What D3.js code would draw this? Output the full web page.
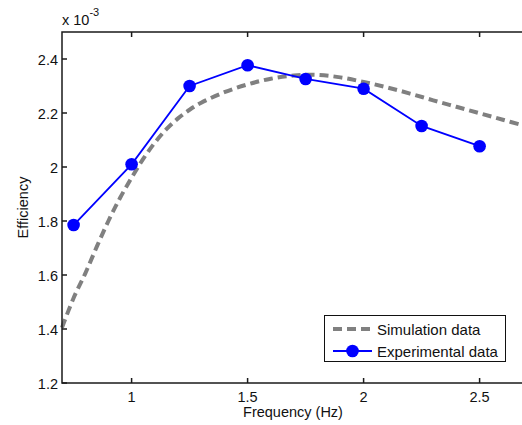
<!DOCTYPE html>
<html>
<head>
<meta charset="utf-8">
<script src="https://cdn.jsdelivr.net/npm/d3@7"></script>
<style>
 body { margin: 0; background: #fff; }
 text { font-family: "Liberation Sans", Arial, sans-serif; fill: #111; }
</style>
</head>
<body>
<div id="chart"></div>
<script>
// data (efficiency in units of 1e-3)
var expFreq = [0.75, 1, 1.25, 1.5, 1.75, 2, 2.25, 2.5];
var expEff = [1.785, 2.01, 2.30, 2.377, 2.326, 2.29, 2.152, 2.077];

var simFreq = [0.7, 0.75, 0.8, 0.85, 0.9, 0.95, 1, 1.05, 1.1, 1.15, 1.2, 1.25, 1.3, 1.4, 1.5, 1.6, 1.7, 1.8, 1.9, 2, 2.1, 2.2, 2.3, 2.4, 2.5, 2.6, 2.7, 2.75];
var simEff = [1.405, 1.515, 1.605, 1.705, 1.80, 1.885, 1.96, 2.03, 2.09, 2.14, 2.18, 2.212, 2.238, 2.277, 2.306, 2.327, 2.339, 2.341, 2.332, 2.315, 2.295, 2.272, 2.247, 2.223, 2.199, 2.175, 2.151, 2.139];

var xTicks = [1, 1.5, 2, 2.5];
var yTicks = [1.2, 1.4, 1.6, 1.8, 2, 2.2, 2.4];
var legendLabels = ["Simulation data", "Experimental data"];

 var w = 522;
 var h = 425;
 var svg = d3.select("#chart")
 .append("svg")
 .attr("width", w)
 .attr("height", h);

 // plot box (note: "top" is taken by window.top)
 var pLeft = 62, pTop = 32, pBottom = 383;
 var x = d3.scaleLinear().domain([0.7, 2.75]).range([pLeft, pLeft + 2.05 * 232]);
 var y = d3.scaleLinear().domain([1.2, 2.5]).range([pBottom, pTop]);
 var pRight = x(2.75);

var sim = simFreq.map(function(f, i) { return [f, simEff[i]]; });
var exp = expFreq.map(function(f, i) { return [f, expEff[i]]; });

var line = d3.line()
 .x(function(d) { return x(d[0]); })
 .y(function(d) { return y(d[1]); });

// simulation curve
svg.append("path")
 .datum(sim)
 .attr("fill", "none")
 .attr("stroke", "#808080")
 .attr("stroke-width", 4)
 .attr("stroke-dasharray", "9,5")
 .attr("d", line.curve(d3.curveCatmullRom));

// experimental
svg.append("path")
 .datum(exp)
 .attr("fill", "none")
 .attr("stroke", "#0000ff")
 .attr("stroke-width", 1.8)
 .attr("d", line.curve(d3.curveLinear));

svg.selectAll("circle.exp")
 .data(exp)
 .enter()
 .append("circle")
 .attr("class", "exp")
 .attr("cx", function(d) { return x(d[0]); })
 .attr("cy", function(d) { return y(d[1]); })
 .attr("r", 6.3)
 .attr("fill", "#0000ff");

// axes box
var ax = svg.append("g").attr("fill", "none").attr("stroke", "#1a1a1a").attr("stroke-width", 1.5);
ax.append("rect").attr("x", pLeft).attr("y", pTop).attr("width", pRight - pLeft).attr("height", pBottom - pTop);

// ticks (inward, both sides)
xTicks.forEach(function(t) {
 ax.append("line").attr("x1", x(t)).attr("x2", x(t)).attr("y1", pBottom).attr("y2", pBottom - 5);
 ax.append("line").attr("x1", x(t)).attr("x2", x(t)).attr("y1", pTop).attr("y2", pTop + 5);
});
yTicks.forEach(function(t) {
 ax.append("line").attr("x1", pLeft).attr("x2", pLeft + 5).attr("y1", y(t)).attr("y2", y(t));
 ax.append("line").attr("x1", pRight).attr("x2", pRight - 5).attr("y1", y(t)).attr("y2", y(t));
});

svg.selectAll("text.xt")
 .data(xTicks)
 .enter()
 .append("text")
 .attr("class", "xt")
 .attr("x", function(d) { return x(d); })
 .attr("y", 402)
 .attr("text-anchor", "middle")
 .attr("font-size", 14.5)
 .text(function(d) { return d; });

svg.selectAll("text.yt")
 .data(yTicks)
 .enter()
 .append("text")
 .attr("class", "yt")
 .attr("x", pLeft - 4)
 .attr("y", function(d) { return y(d) + 5.5; })
 .attr("text-anchor", "end")
 .attr("font-size", 14.5)
 .text(function(d) { return d; });

svg.append("text")
 .attr("x", 293)
 .attr("y", 417)
 .attr("text-anchor", "middle")
 .attr("font-size", 14.5)
 .text("Frequency (Hz)");

svg.append("text")
 .attr("transform", "translate(28," + ((pTop + pBottom) / 2) + ") rotate(-90)")
 .attr("text-anchor", "middle")
 .attr("font-size", 14.5)
 .text("Efficiency");

var mult = svg.append("text").attr("x", 62).attr("y", 25).attr("font-size", 14.5);
mult.append("tspan").text("x 10");
mult.append("tspan").attr("dy", -9).attr("font-size", 11).text("-3");

// legend
var lg = svg.append("g");
lg.append("rect")
 .attr("x", 324.5).attr("y", 315.5).attr("width", 181).attr("height", 46)
 .attr("fill", "#fff").attr("stroke", "#111").attr("stroke-width", 1);
lg.append("line")
 .attr("x1", 333).attr("x2", 372).attr("y1", 329).attr("y2", 329)
 .attr("stroke", "#808080").attr("stroke-width", 4).attr("stroke-dasharray", "9,5");
lg.append("line")
 .attr("x1", 333).attr("x2", 372).attr("y1", 351).attr("y2", 351)
 .attr("stroke", "#0000ff").attr("stroke-width", 1.8);
lg.append("circle").attr("cx", 352.5).attr("cy", 351).attr("r", 6.3).attr("fill", "#0000ff");
lg.selectAll("text")
 .data(legendLabels)
 .enter()
 .append("text")
 .attr("x", 377)
 .attr("y", function(d, i) { return 335 + i * 21.5; })
 .attr("font-size", 15)
 .text(function(d) { return d; });
</script>
</body>
</html>
